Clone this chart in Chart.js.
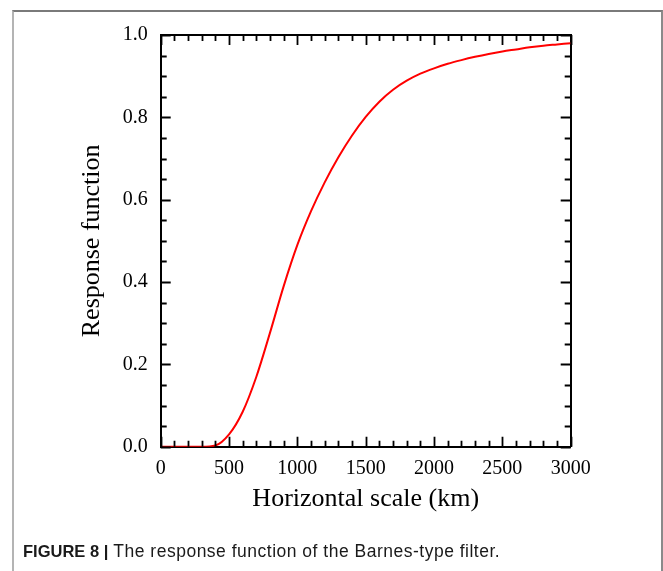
<!DOCTYPE html>
<html>
<head>
<meta charset="utf-8">
<script src="https://cdn.jsdelivr.net/npm/chart.js@4"></script>
<style>
  html, body { margin: 0; padding: 0; background: #fff; }
  #wrap { position: relative; width: 663px; height: 571px; overflow: hidden; }
  #c { position: absolute; left: 0; top: 0; }
  #frame { position: absolute; left: 12px; top: 10px; width: 651px; height: 580px; box-sizing: border-box;
    border-top: 2px solid #7a7a7a; border-left: 2px solid #b4b4b4; border-right: 2px solid #8a8a8a; pointer-events: none; }
  #caption { position: absolute; left: 23px; top: 543px; font-family: "Liberation Sans", Arial, sans-serif;
    font-size: 16.5px; line-height: 16.5px; color: #1a1a1a; white-space: nowrap; }
  #caption b { font-weight: bold; }
  #caption span { font-size: 17.5px; letter-spacing: 0.5px; }
</style>
</head>
<body>
<div id="wrap">
  <canvas id="c" width="663" height="571"></canvas>
  <div id="frame"></div>
  <div id="caption"><b>FIGURE 8 |</b><span> The response function of the Barnes-type filter.</span></div>
</div>
<script>
// ---- data ----
const scaleKm = [0, 100, 200, 300, 400, 500, 600, 700, 800, 900, 1000, 1100, 1200, 1300, 1400, 1500,
  1600, 1700, 1800, 1900, 2000, 2100, 2200, 2300, 2400, 2500, 2600, 2700, 2800, 2900, 3000];
const response = [0, 0, 0, 0, 0.003, 0.030, 0.085, 0.170, 0.277, 0.390, 0.490, 0.572, 0.642, 0.703, 0.756, 0.801,
  0.838, 0.867, 0.889, 0.906, 0.919, 0.930, 0.939, 0.947, 0.954, 0.960, 0.965, 0.970, 0.974, 0.977, 0.980];
const xTickLabels = [0, 500, 1000, 1500, 2000, 2500, 3000];
const yTickLabels = ['0.0', '0.2', '0.4', '0.6', '0.8', '1.0'];
const xMinorStep = 100;
const yMinorStep = 0.05;
const xTitle = 'Horizontal scale (km)';
const yTitle = 'Response function';

const xMin = xTickLabels[0], xMax = xTickLabels[xTickLabels.length - 1];
const xMajorStep = xTickLabels[1] - xTickLabels[0];
const yMin = parseFloat(yTickLabels[0]), yMax = parseFloat(yTickLabels[yTickLabels.length - 1]);
const yMajorStep = parseFloat(yTickLabels[1]) - yMin;

const serif = '"Liberation Serif", "Times New Roman", serif';

// inward tick marks on all four sides
const innerTicks = {
  id: 'innerTicks',
  afterDraw(chart) {
    const { ctx, chartArea: a, scales: { x, y } } = chart;
    ctx.save();
    ctx.strokeStyle = '#000';
    ctx.lineWidth = 1.8;
    ctx.beginPath();
    const nx = Math.round((xMax - xMin) / xMinorStep);
    const xPer = Math.round(xMajorStep / xMinorStep);
    for (let k = 0; k <= nx; k++) {
      const px = Math.round(x.getPixelForValue(xMin + k * xMinorStep)) + 0.5;
      const len = (k % xPer === 0) ? 10 : 6;
      ctx.moveTo(px, a.bottom); ctx.lineTo(px, a.bottom - len);
      ctx.moveTo(px, a.top); ctx.lineTo(px, a.top + len);
    }
    const ny = Math.round((yMax - yMin) / yMinorStep);
    const yPer = Math.round(yMajorStep / yMinorStep);
    for (let k = 0; k <= ny; k++) {
      const py = Math.round(y.getPixelForValue(yMin + k * yMinorStep)) + 0.5;
      const len = (k % yPer === 0) ? 10 : 6;
      ctx.moveTo(a.left, py); ctx.lineTo(a.left + len, py);
      ctx.moveTo(a.right, py); ctx.lineTo(a.right - len, py);
    }
    ctx.stroke();
    ctx.restore();
  }
};

const noGrid = { display: false, drawTicks: false };
const axisBorder = { display: true, color: '#000', width: 2 };

new Chart(document.getElementById('c'), {
  type: 'line',
  data: {
    datasets: [{
      data: scaleKm.map((v, i) => ({ x: v, y: response[i] })),
      borderColor: '#ff0000',
      borderWidth: 2,
      pointRadius: 0,
      cubicInterpolationMode: 'monotone',
      fill: false
    }]
  },
  options: {
    responsive: false,
    animation: false,
    devicePixelRatio: 1,
    layout: { padding: 0 },
    plugins: { legend: { display: false }, tooltip: { enabled: false } },
    scales: {
      x: {
        type: 'linear', position: 'bottom', min: xMin, max: xMax,
        grid: noGrid, border: axisBorder,
        afterBuildTicks: s => { s.ticks = xTickLabels.map(v => ({ value: v })); },
        ticks: { color: '#000', font: { family: serif, size: 20 }, padding: 10, maxRotation: 0,
          callback: v => String(v) },
        title: { display: true, text: xTitle, color: '#000', font: { family: serif, size: 26 },
          padding: { top: 0, bottom: 56 } },
        afterFit: s => { s.height = 124.3; }
      },
      x2: {
        type: 'linear', position: 'top', min: xMin, max: xMax,
        grid: noGrid, border: axisBorder, ticks: { display: false },
        afterFit: s => { s.height = 35; }
      },
      y: {
        type: 'linear', position: 'left', min: yMin, max: yMax,
        grid: noGrid, border: axisBorder,
        afterBuildTicks: s => { s.ticks = yTickLabels.map(t => ({ value: parseFloat(t) })); },
        ticks: { color: '#000', font: { family: serif, size: 20 }, padding: 13,
          callback: (v, i) => yTickLabels[i] },
        title: { display: true, text: yTitle, color: '#000', font: { family: serif, size: 26 },
          padding: { top: 77, bottom: 0 } },
        afterFit: s => { s.width = 160.7; }
      },
      y2: {
        type: 'linear', position: 'right', min: yMin, max: yMax,
        grid: noGrid, border: axisBorder, ticks: { display: false },
        afterFit: s => { s.width = 92.3; }
      }
    }
  },
  plugins: [innerTicks]
});
</script>
</body>
</html>
